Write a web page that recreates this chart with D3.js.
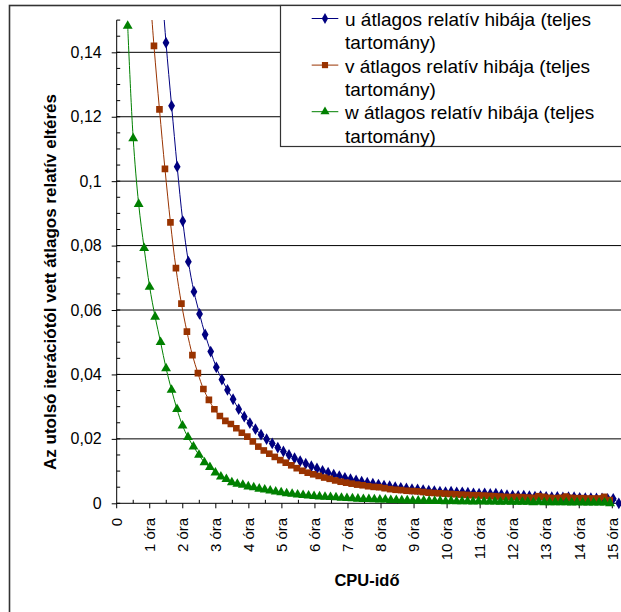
<!DOCTYPE html>
<html>
<head>
<meta charset="utf-8">
<script src="https://cdn.jsdelivr.net/npm/d3@7/dist/d3.min.js"></script>
<style>
  body { margin: 0; background: #fff; }
  svg { display: block; }
  text { font-family: "Liberation Sans", Arial, sans-serif; fill: #000; }
</style>
</head>
<body>
<svg id="chart"></svg>
<script>
// x axis: CPU-idő in hours
var hourTicks = [0, 1, 2, 3, 4, 5, 6, 7, 8, 9, 10, 11, 12, 13, 14, 15]
var hourLabels = ['0', '1 óra', '2 óra', '3 óra', '4 óra', '5 óra', '6 óra', '7 óra',
  '8 óra', '9 óra', '10 óra', '11 óra', '12 óra', '13 óra', '14 óra', '15 óra']
var yTicks = [0, 0.02, 0.04, 0.06, 0.08, 0.1, 0.12, 0.14]
var yLabels = ['0', '0,02', '0,04', '0,06', '0,08', '0,1', '0,12', '0,14']

var seriesNames = [
  ['u átlagos relatív hibája (teljes', 'tartomány)'],
  ['v átlagos relatív hibája (teljes', 'tartomány)'],
  ['w átlagos relatív hibája (teljes', 'tartomány)']
]
// sampling of each series: first time (h) and step (h)
var uStart = 1.323, uStep = 0.1692
var vStart = 0.962, vStep = 0.1662
var wStart = 0.333, wStep = 0.1659

var uValues = [0.166, 0.143, 0.1234, 0.1045, 0.0876, 0.075, 0.0657, 0.0588, 0.0524, 0.0471,
  0.0422, 0.0384, 0.0352, 0.0323, 0.0292, 0.0269, 0.0249, 0.0230, 0.0213, 0.0199,
  0.0186, 0.0173, 0.0161, 0.0150, 0.0140, 0.0131, 0.0123, 0.0115, 0.0108, 0.0101,
  0.0095, 0.0089, 0.0084, 0.0079, 0.0075, 0.0071, 0.0067, 0.0064, 0.0061, 0.0058,
  0.0055, 0.0053, 0.0050, 0.0048, 0.0046, 0.0044, 0.0043, 0.0041, 0.0039, 0.0038,
  0.0036, 0.0035, 0.0036, 0.0034, 0.0034, 0.0033, 0.0031, 0.0030, 0.0031, 0.0029,
  0.0030, 0.0027, 0.0025, 0.0024, 0.0023, 0.0024, 0.0022, 0.0021, 0.0022, 0.0020,
  0.0019, 0.0020, 0.0018, 0.0019, 0.0019, 0.0017, 0.0016, 0.0016, 0.0015, 0.0015,
  0.0014, 0.0014, 0]

var vValues = [0.165, 0.1420, 0.1223, 0.1038, 0.0872, 0.0730, 0.0620, 0.0533, 0.0460, 0.0404,
  0.0355, 0.0321, 0.0292, 0.0271, 0.0256, 0.0246, 0.0233, 0.0219, 0.0207, 0.0192,
  0.0176, 0.0164, 0.0154, 0.0144, 0.0134, 0.0126, 0.0118, 0.0109, 0.0101, 0.0095,
  0.0090, 0.0085, 0.0080, 0.0076, 0.0071, 0.0067, 0.0064, 0.0061, 0.0058, 0.0056,
  0.0053, 0.0051, 0.0050, 0.0047, 0.0044, 0.0042, 0.0041, 0.0039, 0.0038, 0.0037,
  0.0035, 0.0033, 0.0032, 0.0031, 0.0030, 0.0029, 0.0028, 0.0027, 0.0026, 0.0025,
  0.0025, 0.0024, 0.0023, 0.0022, 0.0021, 0.0020, 0.0019, 0.0020, 0.0019, 0.0018,
  0.0017, 0.0022, 0.0020, 0.0017, 0.0016, 0.0017, 0.0021, 0.0017, 0.0016, 0.0016,
  0.0015, 0.0015, 0.0015, 0.0020, 0.0010]

var wValues = [0.1482, 0.1133, 0.0929, 0.0792, 0.0672, 0.0579, 0.0500, 0.0419, 0.0352, 0.0292,
  0.0241, 0.0205, 0.0176, 0.0150, 0.0127, 0.0112, 0.0095, 0.0083, 0.0075, 0.0065,
  0.0060, 0.0057, 0.0052, 0.0049, 0.0045, 0.0042, 0.0039, 0.0036, 0.0034, 0.0031,
  0.0029, 0.0027, 0.0025, 0.0024, 0.0022, 0.0021, 0.0020, 0.0019, 0.0018, 0.0017,
  0.0016, 0.0015, 0.0014, 0.0013, 0.0013, 0.0012, 0.0011, 0.0011, 0.0010, 0.0010,
  0.0009, 0.0009, 0.0008, 0.0008, 0.0008, 0.0007, 0.0007, 0.0007, 0.0006, 0.0007,
  0.0006, 0.0006, 0.0006, 0.0005, 0.0006, 0.0005, 0.0005, 0.0005, 0.0004, 0.0005,
  0.0004, 0.0004, 0.0004, 0.0004, 0.0003, 0.0004, 0.0003, 0.0003, 0.0003, 0.0003,
  0.0003, 0.0002, 0.0003, 0.0002, 0.0002, 0.0002, 0.0002, 0.0002, 0]

var colors = ['#000080', '#993300', '#008000']
var symbols = [d3.symbolDiamond, d3.symbolSquare, d3.symbolTriangle]
var symbolSizes = [40, 44, 42]

var w = 621,
  h = 612,
  plotLeft = 116.7,
  plotTop = 20.1,
  plotBottom = 503.3,
  plotRight = 640

var svg = d3.select('#chart').attr('width', w).attr('height', h)

// chart area border (runs off the right and bottom edge)
svg.append('rect')
  .attr('x', 9.5).attr('y', 5.5)
  .attr('width', 700).attr('height', 700)
  .attr('fill', '#fff')
  .attr('stroke', '#333').attr('stroke-width', 1.6)

var x = d3.scaleLinear().domain([0, 15]).range([plotLeft, 612.3])
var y = d3.scaleLinear().domain([0, 0.15]).range([plotBottom, plotTop])

// gridlines
svg.append('g')
  .selectAll('line')
  .data(yTicks.slice(1))
  .join('line')
  .attr('x1', plotLeft).attr('x2', plotRight)
  .attr('y1', d => y(d)).attr('y2', d => y(d))
  .attr('stroke', '#000').attr('stroke-width', 1)

// y axis: major ticks outside, minor ticks inside
var yAxis = svg.append('g').attr('transform', 'translate(' + plotLeft + ',0)')
yAxis.call(d3.axisLeft(y).tickValues(yTicks).tickSize(5).tickPadding(10)
  .tickFormat((d, i) => yLabels[i]))
yAxis.select('.domain').remove()
yAxis.selectAll('text').style('font-size', '16px').style('font-family', null)
yAxis.selectAll('line').attr('stroke', '#000')
var yMinor = d3.range(0, 31).map(i => i * 0.005)
yAxis.append('g').selectAll('line')
  .data(yMinor)
  .join('line')
  .attr('x1', 0).attr('x2', 3.5)
  .attr('y1', d => y(d)).attr('y2', d => y(d))
  .attr('stroke', '#000')
yAxis.append('line')
  .attr('x1', 0).attr('x2', 0)
  .attr('y1', plotTop).attr('y2', plotBottom)
  .attr('stroke', '#000')

// x axis
var xAxis = svg.append('g').attr('transform', 'translate(0,' + plotBottom + ')')
xAxis.append('line')
  .attr('x1', plotLeft).attr('x2', plotRight)
  .attr('stroke', '#000')
xAxis.selectAll('line.major')
  .data(hourTicks)
  .join('line').attr('class', 'major')
  .attr('x1', d => x(d)).attr('x2', d => x(d))
  .attr('y1', 0).attr('y2', 5)
  .attr('stroke', '#000')
xAxis.selectAll('line.minor')
  .data(hourTicks.map(d => d + 0.5))
  .join('line').attr('class', 'minor')
  .attr('x1', d => x(d)).attr('x2', d => x(d))
  .attr('y1', 0).attr('y2', -3.5)
  .attr('stroke', '#000')
xAxis.selectAll('text')
  .data(hourTicks)
  .join('text')
  .attr('transform', d => 'translate(' + x(d) + ',14.5) rotate(-90)')
  .attr('dy', '0.35em')
  .attr('text-anchor', 'end')
  .style('font-size', '15px')
  .text((d, i) => hourLabels[i])

// axis titles
svg.append('text')
  .attr('x', 367).attr('y', 586)
  .attr('text-anchor', 'middle')
  .style('font-size', '16.5px').style('font-weight', 'bold')
  .text('CPU-idő')
svg.append('text')
  .attr('transform', 'translate(56,282) rotate(-90)')
  .attr('text-anchor', 'middle')
  .style('font-size', '17px').style('font-weight', 'bold')
  .text('Az utolsó iterációtól vett átlagos relatív eltérés')

// series
svg.append('clipPath').attr('id', 'plotClip')
  .append('rect')
  .attr('x', plotLeft).attr('y', plotTop)
  .attr('width', plotRight - plotLeft).attr('height', plotBottom - plotTop + 10)

var series = [
  { values: uValues, start: uStart, step: uStep },
  { values: vValues, start: vStart, step: vStep },
  { values: wValues, start: wStart, step: wStep }
]

var plot = svg.append('g').attr('clip-path', 'url(#plotClip)')
var line = d3.line()
  .x(d => x(d[0]))
  .y(d => y(d[1]))
  .curve(d3.curveCatmullRom.alpha(0.5))

series.forEach(function(s, k) {
  var pts = s.values.map((v, i) => [s.start + i * s.step, v])
  plot.append('path')
    .datum(pts)
    .attr('d', line)
    .attr('fill', 'none')
    .attr('stroke', colors[k])
    .attr('stroke-width', 1)
  var sym = d3.symbol().type(symbols[k]).size(symbolSizes[k])
  plot.append('g')
    .selectAll('path')
    .data(pts)
    .join('path')
    .attr('transform', d => 'translate(' + x(d[0]) + ',' + y(d[1]) + ')')
    .attr('d', sym)
    .attr('fill', colors[k])
})

// legend
var legend = svg.append('g')
legend.append('rect')
  .attr('x', 280.5).attr('y', 5.5)
  .attr('width', 400).attr('height', 141)
  .attr('fill', '#fff')
  .attr('stroke', '#333').attr('stroke-width', 1.2)

seriesNames.forEach(function(lines, k) {
  var base = 26 + k * 46.6
  var my = base - 7.5
  legend.append('line')
    .attr('x1', 311.7).attr('x2', 338.3)
    .attr('y1', my).attr('y2', my)
    .attr('stroke', colors[k])
  legend.append('path')
    .attr('transform', 'translate(325,' + my + ')')
    .attr('d', d3.symbol().type(symbols[k]).size(symbolSizes[k] - 6))
    .attr('fill', colors[k])
  lines.forEach(function(t, j) {
    legend.append('text')
      .attr('x', 345).attr('y', base + j * 23.3)
      .style('font-size', '19px')
      .text(t)
  })
})
</script>
</body>
</html>
